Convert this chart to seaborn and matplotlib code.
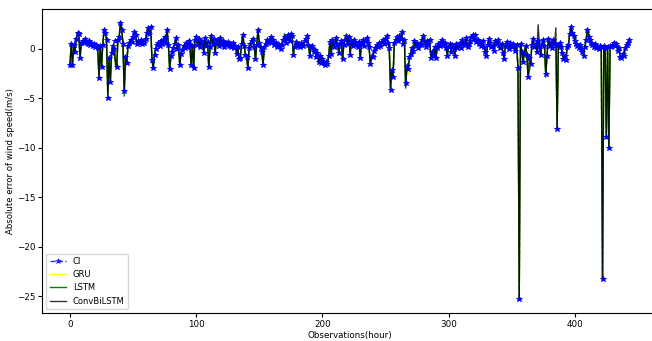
import numpy as np
import pandas as pd
import matplotlib
matplotlib.use("Agg")
import matplotlib.pyplot as plt
import seaborn as sns

# absolute error of wind speed (one value per hour)
ci = [
    -1.7, 0.5, -1.7, 0.4, -0.3, 1.0, 1.6, 1.5, -1.0, 0.6,
    0.8, 0.6, 1.0, 0.7, 0.5, 0.8, 0.4, 0.6, 0.3, 0.5,
    0.2, 0.4, 0.1, -3.0, 0.3, -1.9, 0.4, 1.9, 1.6, 0.9,
    -5.0, -1.0, -3.4, -0.4, 0.3, 0.0, 0.8, -1.9, 0.9, 1.2,
    2.6, 1.9, 0.5, -4.3, -0.9, -1.5, 0.3, 0.6, 0.9, 0.7,
    1.2, 1.7, 1.4, 0.5, 0.8, 0.6, 0.9, 0.5, 0.7, 0.6,
    1.0, 1.6, 2.1, 1.5, 2.2, -1.2, -2.0, -0.6, 0.0, 0.4,
    0.6, 0.3, 0.8, 0.5, 0.9, 1.2, 0.6, 1.9, 0.4, -2.1,
    -0.8, -0.3, 0.1, 0.5, 1.1, 0.0, 0.4, -1.7, -0.5, -0.1,
    0.3, 0.1, 0.6, 0.2, 0.8, 0.4, -1.7, 0.3, -2.0, 0.9,
    1.2, 0.4, 1.0, 0.2, 0.8, 0.6, -0.4, 1.1, 0.3, 0.7,
    -1.9, 0.2, 1.3, 0.5, 1.0, -0.4, 0.6, 0.9, 0.3, 1.1,
    0.5, 0.8, 0.2, 0.6, 0.4, 0.7, 0.3, 0.5, 0.2, 0.6,
    0.1, 0.3, -0.5, 0.2, -1.1, -1.0, 0.5, 1.4, 0.3, -0.6,
    -0.9, -2.0, 0.1, 0.5, 0.8, 1.0, 0.2, -1.1, 0.4, 1.9,
    0.6, 0.1, -0.3, -1.7, 0.2, 0.5, 0.9, 0.6, 0.8, 1.2,
    0.7, 0.9, 0.4, 0.6, 0.2, 0.5, 0.3, 0.0, 0.4, 0.9,
    1.2, 0.6, 1.0, 1.4, 0.8, 1.5, 1.3, -0.6, 0.2, 0.7,
    0.3, 0.5, 0.2, 0.6, 0.4, 0.3, 0.8, 1.0, 1.3, 0.4,
    -0.7, 0.1, 0.3, -0.3, -0.1, -0.9, -0.4, -1.4, -0.8, -1.5,
    -1.1, -1.5, -1.7, -1.4, -1.6, -0.8, 0.7, -0.5, 0.9, 0.2,
    0.6, 1.1, 0.3, -0.4, 0.5, 0.8, -1.1, 0.4, 0.9, 1.3,
    0.5, 1.2, -0.6, 0.8, 0.3, 0.9, 0.4, 0.6, 0.2, 0.7,
    -1.0, 0.5, 0.9, 0.3, 0.8, 1.1, 0.6, 0.2, -1.6, -0.8,
    -0.9, -0.2, 0.1, 0.4, 0.2, 0.6, 0.3, 0.7, 0.9, 0.5,
    1.0, 1.3, 0.6, 0.1, -4.2, -2.2, -2.9, 0.6, 0.9, 1.2,
    0.8, 1.3, 1.0, 1.7, 0.5, 0.9, -3.5, -1.8, -2.1, -0.9,
    -0.5, 0.1, -0.2, 0.8, 0.3, 0.6, 0.1, 0.5, 0.4, 0.9,
    1.3, 0.6, 0.2, 0.8, 0.5, 0.9, -1.0, -0.3, -0.6, 0.2,
    -1.0, 0.1, 0.5, 0.3, 0.7, 0.9, 0.4, 0.6, 0.1, -0.7,
    0.2, 0.5, -0.3, 0.4, 0.0, -0.7, 0.5, 0.1, 0.3, 0.6,
    0.1, 0.9, 0.4, 0.6, 1.1, 0.2, 0.5, 0.8, 1.2, 1.4,
    1.0, 1.4, 0.7, 0.9, 0.5, 0.6, 0.3, 0.8, 0.2, -0.3,
    -0.8, 0.4, 1.0, 0.6, 0.2, 0.3, -0.2, 0.8, 0.5, 0.9,
    0.4, 0.1, 0.5, -0.4, -1.1, 0.3, 0.7, 0.4, 0.0, 0.6,
    0.2, 0.5, 0.3, -0.2, 0.4, -2.0, -25.3, 0.5, -0.3, -1.4,
    -0.5, 0.3, -0.6, -2.9, -1.0, -1.6, 0.4, 1.0, 0.2, 0.5,
    -0.3, 0.8, 0.2, -0.6, 0.4, 0.9, 0.3, -2.6, -0.7, 1.0,
    0.3, 0.6, 0.1, 0.9, 0.5, 0.4, -8.1, 0.3, 0.6, 0.2,
    -0.4, -1.1, -0.8, -1.2, 0.2, 0.4, 1.5, 2.2, 1.6, 1.3,
    0.8, 0.5, 0.3, 0.1, 0.4, 0.0, -0.3, -0.7, 0.2, 0.9,
    1.9, 1.2, 0.9, 0.6, 0.4, 0.2, 0.5, 0.1, 0.3, 0.0,
    0.3, 0.2, -23.3, 0.3, 0.1, -8.9, 0.2, -10.0, 0.3, 0.2,
    0.4, 0.6, 0.3, 0.5, -0.2, 0.1, -0.9, -1.0, -0.5, -0.8,
    0.1, 0.4, 0.6, 0.9,
]
hours = np.arange(len(ci))

# model curves follow CI closely; only the visibly different hours are listed
gru_diff = {37: -1.4, 43: -3.6, 66: -1.7, 256: -2.5, 268: -2.6, 267: -2.3,
            227: 0.9, 315: 0.8, 399: 1.0, 436: -0.6}
lstm_diff = {30: -4.6, 36: -1.6, 37: -2.0, 43: -4.8, 254: -3.9, 266: -4.0,
             170: 1.5, 364: -2.3, 377: -2.9, 411: 1.5}
conv_diff = {371: 2.4, 385: 2.1, 36: -1.2, 266: -3.8}

gru = list(ci)
for k, v in gru_diff.items():
    gru[k] = v
lstm = list(ci)
for k, v in lstm_diff.items():
    lstm[k] = v
conv = list(ci)
for k, v in conv_diff.items():
    conv[k] = v

df = pd.DataFrame({"hour": hours, "CI": ci, "GRU": gru, "LSTM": lstm, "ConvBiLSTM": conv})

plt.rcParams['font.family'] = ['DejaVu Sans']
fig = plt.figure(figsize=(6.52, 3.41), dpi=100)
ax = fig.add_axes([42 / 652, 28 / 341, 615 / 652, 304 / 341])

star = dict(marker="*", markersize=4, markeredgecolor="blue", markerfacecolor="blue",
            markeredgewidth=0.4)
sns.lineplot(data=df, x="hour", y="CI", ax=ax, color="blue", linestyle="--",
             linewidth=1, alpha=0.8, label="CI", zorder=1, **star)
sns.lineplot(data=df, x="hour", y="GRU", ax=ax, color="yellow", linewidth=1, label="GRU", zorder=2)
sns.lineplot(data=df, x="hour", y="LSTM", ax=ax, color="green", linewidth=1, label="LSTM", zorder=3)
sns.lineplot(data=df, x="hour", y="ConvBiLSTM", ax=ax, color="black", linewidth=1,
             alpha=0.8, label="ConvBiLSTM", zorder=4)
# stars sit on top of the model lines in the reference
ax.plot(df["hour"], df["CI"], linestyle="none", zorder=5, **star)

ax.set_xlabel("Observations(hour)", fontsize=6.3, labelpad=1.5)
ax.set_ylabel("Absolute error of wind speed(m/s)", fontsize=6.1, labelpad=1.5)
ax.tick_params(labelsize=6.3, length=3, pad=1.8)
ax.legend(loc="lower left", fontsize=6, handlelength=2.0)

fig.savefig("out.png", dpi=100)
